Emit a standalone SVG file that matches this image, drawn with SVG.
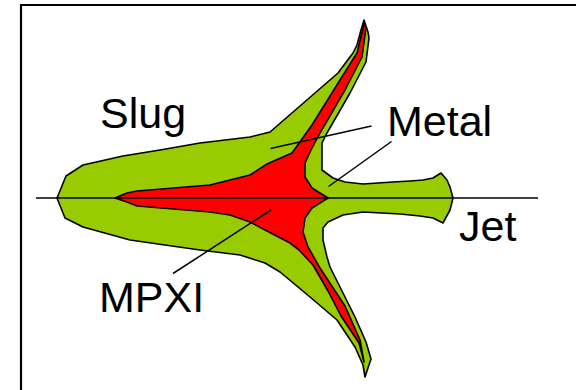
<svg xmlns="http://www.w3.org/2000/svg" width="576" height="390" viewBox="0 0 576 390">
  <style>
    .frame { fill: none; stroke: #000; stroke-width: 2.2; }
    .zone { stroke: #000; stroke-width: 1.6; stroke-linejoin: round; }
    .slug { fill: #99CC00; }
    .metal { fill: #FF0000; }
    .axis, .leader { stroke: #000; stroke-width: 1.5; fill: none; }
    .label { font-family: "Liberation Sans", Arial, sans-serif; font-size: 43px; fill: #000; }
  </style>

  <rect width="576" height="390" fill="#fff"/>
  <!-- panel frame: only the top and left edges fall inside the view -->
  <path class="frame" d="M21,400 V5 H590"/>

  <!-- outer green region: slug body, upper and lower wings, jet -->
  <g id="slug-region">
    <polygon class="zone slug" points="57,198 66,176 83,165 123,156 160,150 200,143 250,137 270,132 338,73 353,53 357,45 361,30 364,20 368,32 369,38 366,62 350,93 327,133 322,143 322,170 333,178 345,182 363,184 393,182 410,181 423,180 433,178 441,173 447,180 450,187 453,198 450,210 443,223 433,218 420,216 400,214 363,212 343,215 328,222 323,228 323,240 327,257 330,267 355,317 366,342 371,359 365,377 363,365 355,347 337,320 310,297 280,272 265,263 240,255 200,250 130,240 83,227 65,218"/>
  </g>

  <!-- inner red region: metal -->
  <g id="metal-region">
    <polygon class="zone metal" points="115,198 127,193 137,191 210,185 230,180 250,175 267,164 292,153 312,125 340,80 357,53 363,28 364,23 366,28 362,57 345,90 320,133 311,150 305,163 305,177 312,188 320,193 328,198 320,203 312,208 305,218 303,232 308,247 320,268 345,306 360,340 364,362 359,343 341,316 328,291 313,265 299,250 290,243 267,231 250,222 230,215 210,212 137,206 127,202"/>
  </g>

  <!-- axis and label leaders -->
  <g id="connectors">
    <line class="axis" x1="36" y1="198" x2="538" y2="198"/>
    <line class="leader" x1="371.5" y1="126" x2="270.5" y2="148.5"/>
    <line class="leader" x1="391.5" y1="141.5" x2="328.5" y2="186.5"/>
    <line class="leader" x1="271" y1="210" x2="173" y2="273.5"/>
  </g>

  <g id="label-slug"><text class="label" x="100" y="128">Slug</text></g>
  <g id="label-metal"><text class="label" x="387" y="136">Metal</text></g>
  <g id="label-jet"><text class="label" x="459" y="241">Jet</text></g>
  <g id="label-mpxi"><text class="label" x="99" y="312">MPXI</text></g>
</svg>
